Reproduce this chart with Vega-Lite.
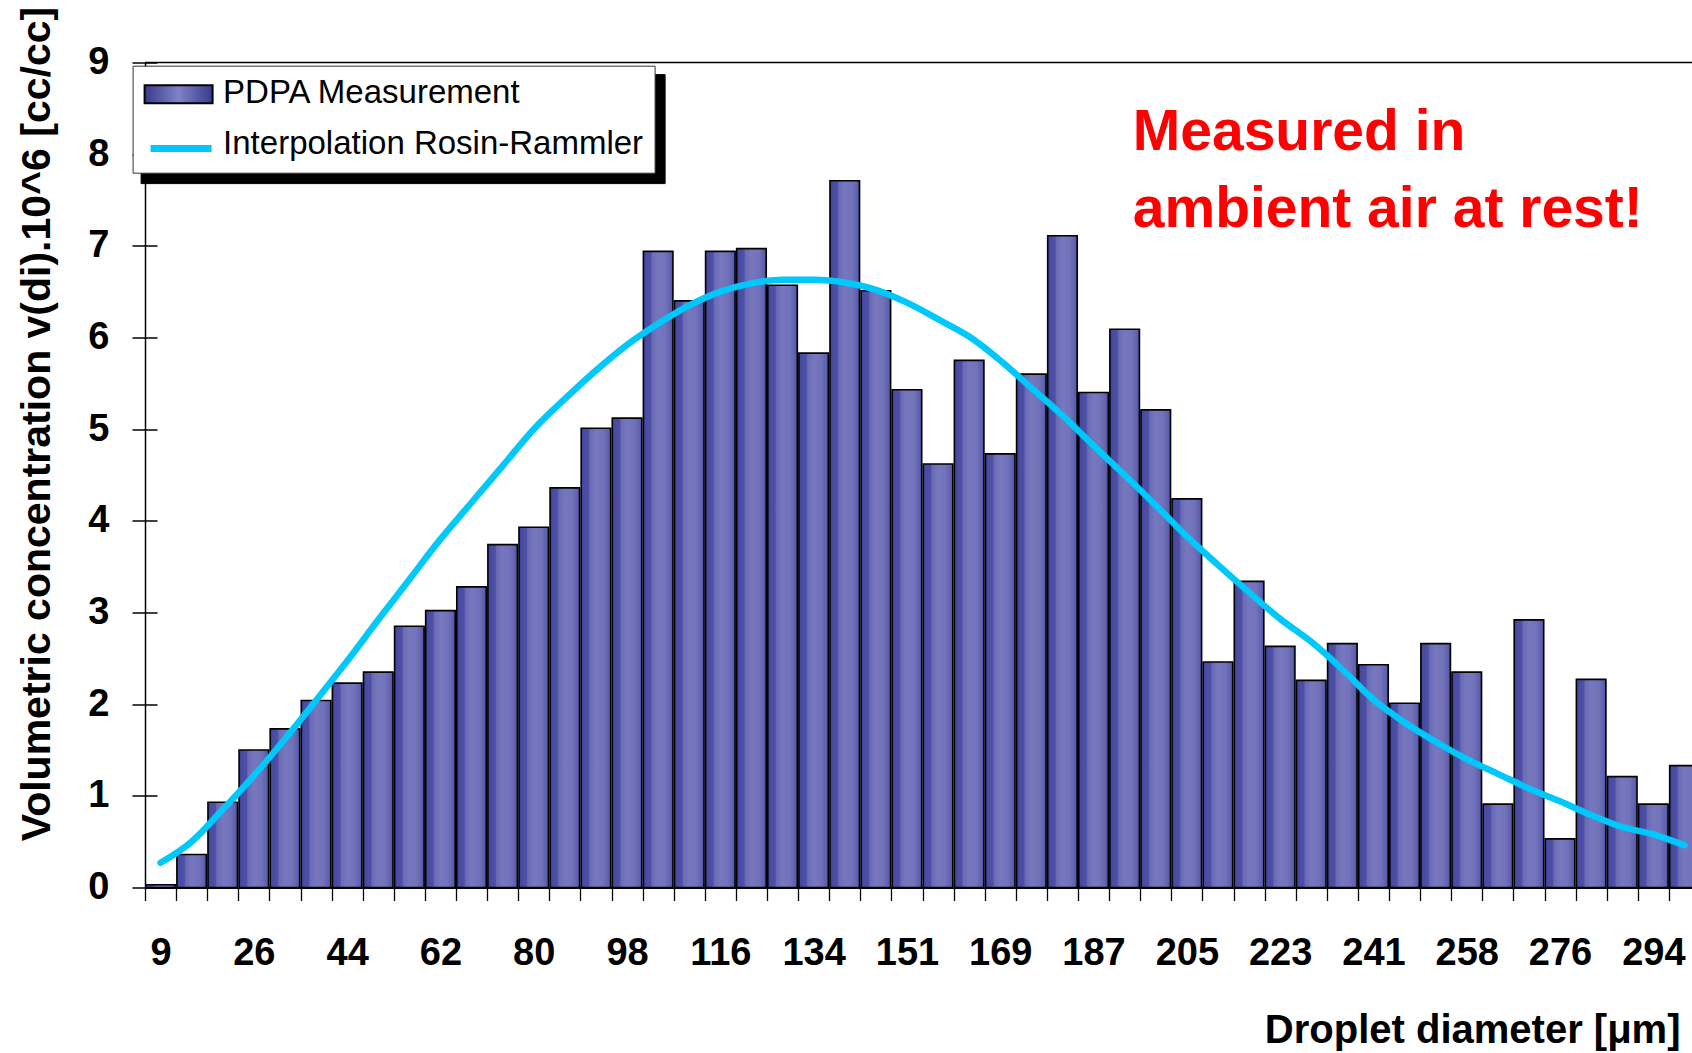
{
  "$schema": "https://vega.github.io/schema/vega-lite/v6.json",
  "width": 1547,
  "height": 825,
  "autosize": {"type": "none"},
  "padding": {"left": 145, "top": 62.5, "right": 0, "bottom": 165.5},
  "background": "#ffffff",
  "config": {"view": {"stroke": null}, "axis": {"grid": false}, "font": "Liberation Sans"},
  "data": {"values": [
    {"d": 9, "v": 0.03, "fit": 0.27},
    {"d": 15, "v": 0.36, "fit": 0.5},
    {"d": 21, "v": 0.93, "fit": 0.85},
    {"d": 26, "v": 1.5, "fit": 1.22},
    {"d": 32, "v": 1.73, "fit": 1.62},
    {"d": 38, "v": 2.04, "fit": 2.04},
    {"d": 44, "v": 2.23, "fit": 2.47},
    {"d": 50, "v": 2.35, "fit": 2.92},
    {"d": 56, "v": 2.85, "fit": 3.36},
    {"d": 62, "v": 3.02, "fit": 3.8},
    {"d": 68, "v": 3.28, "fit": 4.2},
    {"d": 74, "v": 3.74, "fit": 4.6},
    {"d": 80, "v": 3.93, "fit": 5.0},
    {"d": 86, "v": 4.36, "fit": 5.33},
    {"d": 92, "v": 5.01, "fit": 5.64},
    {"d": 98, "v": 5.12, "fit": 5.92},
    {"d": 104, "v": 6.94, "fit": 6.15},
    {"d": 110, "v": 6.4, "fit": 6.35},
    {"d": 116, "v": 6.94, "fit": 6.5},
    {"d": 122, "v": 6.97, "fit": 6.59},
    {"d": 128, "v": 6.57, "fit": 6.63},
    {"d": 134, "v": 5.83, "fit": 6.63},
    {"d": 139, "v": 7.71, "fit": 6.6},
    {"d": 145, "v": 6.51, "fit": 6.52},
    {"d": 151, "v": 5.43, "fit": 6.38},
    {"d": 157, "v": 4.62, "fit": 6.2},
    {"d": 163, "v": 5.75, "fit": 6.01},
    {"d": 169, "v": 4.73, "fit": 5.75},
    {"d": 175, "v": 5.6, "fit": 5.45},
    {"d": 181, "v": 7.11, "fit": 5.15},
    {"d": 187, "v": 5.4, "fit": 4.82},
    {"d": 193, "v": 6.09, "fit": 4.5},
    {"d": 199, "v": 5.21, "fit": 4.17},
    {"d": 205, "v": 4.24, "fit": 3.83},
    {"d": 211, "v": 2.46, "fit": 3.52},
    {"d": 217, "v": 3.34, "fit": 3.22},
    {"d": 223, "v": 2.63, "fit": 2.93},
    {"d": 229, "v": 2.26, "fit": 2.68},
    {"d": 235, "v": 2.66, "fit": 2.38},
    {"d": 241, "v": 2.43, "fit": 2.05},
    {"d": 246, "v": 2.01, "fit": 1.8},
    {"d": 252, "v": 2.66, "fit": 1.59},
    {"d": 258, "v": 2.35, "fit": 1.4},
    {"d": 264, "v": 0.91, "fit": 1.24},
    {"d": 270, "v": 2.92, "fit": 1.08},
    {"d": 276, "v": 0.53, "fit": 0.94},
    {"d": 282, "v": 2.27, "fit": 0.79},
    {"d": 288, "v": 1.21, "fit": 0.66},
    {"d": 294, "v": 0.91, "fit": 0.58},
    {"d": 300, "v": 1.33, "fit": 0.46}
  ]},
  "layer": [
    {
      "data": {"values": [{}]},
      "mark": {"type": "rule", "stroke": "#000000", "strokeWidth": 1.5},
      "encoding": {"y": {"datum": 9, "type": "quantitative", "axis": null}}
    },
    {
      "mark": {
        "type": "bar",
        "width": {"band": 0.95},
        "fill": {"gradient": "linear", "x1": 0, "y1": 0, "x2": 1, "y2": 0, "stops": [
          {"offset": 0, "color": "#3b3e9a"},
          {"offset": 0.08, "color": "#484ba2"},
          {"offset": 0.25, "color": "#4e50a6"},
          {"offset": 0.3, "color": "#6a6bb5"},
          {"offset": 0.5, "color": "#7677bd"},
          {"offset": 0.75, "color": "#7172ba"},
          {"offset": 0.92, "color": "#5f61ae"},
          {"offset": 1, "color": "#4a4ca2"}
        ]},
        "stroke": "#000000",
        "strokeWidth": 1.6
      },
      "encoding": {
        "x": {
          "field": "d",
          "type": "ordinal",
          "sort": "ascending",
          "scale": {
            "domain": [9,15,21,26,32,38,44,50,56,62,68,74,80,86,92,98,104,110,116,122,128,134,139,145,151,157,163,169,175,181,187,193,199,205,211,217,223,229,235,241,246,252,258,264,270,276,282,288,294,300],
            "range": [0, 1555],
            "paddingInner": 0,
            "paddingOuter": 0
          },
          "axis": {
            "title": "Droplet diameter [μm]",
            "tickBand": "extent",
            "tickSize": 13,
            "tickColor": "#000000",
            "tickWidth": 1.3,
            "domainColor": "#000000",
            "domainWidth": 2,
            "labelAngle": 0,
            "labelFont": "Liberation Sans",
            "labelFontSize": 38,
            "labelFontWeight": "bold",
            "labelColor": "#000000",
            "labelPadding": 34,
            "labelOverlap": false,
            "labelBound": false,
            "labelExpr": "indexof([9,26,44,62,80,98,116,134,151,169,187,205,223,241,258,276,294], datum.value) >= 0 ? datum.label : ''",
            "titleFont": "Liberation Sans",
            "titleFontSize": 40,
            "titleFontWeight": "bold",
            "titleColor": "#000000",
            "titleX": 1535,
            "titleY": 155.3,
            "titleAlign": "right",
            "titleBaseline": "alphabetic"
          }
        },
        "y": {
          "field": "v",
          "type": "quantitative",
          "scale": {"domain": [0, 9], "nice": false},
          "axis": {
            "orient": "left",
            "title": "Volumetric concentration v(di).10^6 [cc/cc]",
            "values": [0,1,2,3,4,5,6,7,8,9],
            "tickSize": 13,
            "tickColor": "#000000",
            "tickWidth": 1.5,
            "domainColor": "#000000",
            "domainWidth": 1.5,
            "labelFont": "Liberation Sans",
            "labelFontSize": 38,
            "labelFontWeight": "bold",
            "labelColor": "#000000",
            "labelPadding": 23,
            "labelFlush": false,
            "labelOverlap": false,
            "titleFont": "Liberation Sans",
            "titleFontSize": 41,
            "titleFontWeight": "bold",
            "titleColor": "#000000",
            "titleAngle": -90,
            "titleX": -96,
            "titleY": 361,
            "titleAlign": "center",
            "titleBaseline": "alphabetic"
          }
        }
      }
    },
    {
      "mark": {"type": "line", "strokeWidth": 6.5, "strokeCap": "round", "strokeJoin": "round", "interpolate": "monotone"},
      "encoding": {
        "x": {"field": "d", "type": "ordinal"},
        "y": {
          "field": "fit",
          "type": "quantitative",
          "axis": {
            "orient": "left",
            "values": [0,1,2,3,4,5,6,7,8,9],
            "tickSize": -12,
            "tickColor": "#000000",
            "tickWidth": 1.5,
            "labels": false,
            "domain": false,
            "title": null
          }
        },
        "color": {
          "datum": "Interpolation Rosin-Rammler ",
          "type": "nominal",
          "scale": {"domain": ["PDPA Measurement ", "Interpolation Rosin-Rammler "], "range": ["#000000", "#00c8fa"]},
          "legend": {
            "orient": "none",
            "legendX": -4.4,
            "legendY": 11.6,
            "title": null,
            "fillColor": "#000000",
            "strokeColor": "#000000",
            "padding": 11,
            "rowPadding": 17,
            "labelFont": "Liberation Sans",
            "labelFontSize": 33,
            "labelColor": "#000000",
            "labelOffset": 46.5,
            "labelLimit": 700,
            "labelExpr": "trim(datum.label)",
            "symbolSize": 1089,
            "symbolType": "M-1,-0.545H3.12V0.545H-1Z",
            "symbolFillColor": "#000000",
            "symbolStrokeColor": "#000000"
          }
        },
        "opacity": {
          "datum": "Interpolation Rosin-Rammler",
          "type": "nominal",
          "scale": {"domain": ["PDPA Measurement", "Interpolation Rosin-Rammler"], "range": [1, 1]},
          "legend": {
            "orient": "none",
            "legendX": -12.4,
            "legendY": 3.2,
            "title": null,
            "fillColor": "#ffffff",
            "strokeColor": "#333333",
            "padding": 11,
            "rowPadding": 17,
            "labelFont": "Liberation Sans",
            "labelFontSize": 33,
            "labelColor": "#000000",
            "labelOffset": 46.5,
            "labelLimit": 700,
            "symbolSize": 1089,
            "symbolType": "M0,0",
            "symbolStrokeWidth": 0
          }
        }
      }
    },
    {
      "data": {"values": []},
      "mark": {"type": "line", "stroke": "#00c8fa"},
      "encoding": {
        "strokeWidth": {
          "datum": "Interpolation Rosin-Rammler",
          "type": "nominal",
          "scale": {"domain": ["Interpolation Rosin-Rammler"], "range": [7, 7]},
          "legend": {
            "orient": "none",
            "legendX": -12.4,
            "legendY": 55,
            "title": null,
            "padding": 11,
            "labelFont": "Liberation Sans",
            "labelFontSize": 33,
            "labelOpacity": 0,
            "labelOffset": 46.5,
            "labelLimit": 700,
            "symbolSize": 1089,
            "symbolType": "M-0.79,0H2.91",
            "symbolStrokeColor": "#00c8fa"
          }
        }
      }
    },
    {
      "data": {"values": []},
      "mark": {
        "type": "bar",
        "fill": {"gradient": "linear", "x1": 0, "y1": 0, "x2": 1, "y2": 0, "stops": [
          {"offset": 0, "color": "#383a8e"},
          {"offset": 0.5, "color": "#8082c5"},
          {"offset": 1, "color": "#383a8e"}
        ]},
        "stroke": "#000000",
        "strokeWidth": 2
      },
      "encoding": {
        "strokeDash": {
          "datum": "PDPA Measurement",
          "type": "nominal",
          "scale": {"domain": ["PDPA Measurement"], "range": [[1, 0]]},
          "legend": {
            "orient": "none",
            "legendX": -12.4,
            "legendY": 3.2,
            "title": null,
            "padding": 11,
            "labelFont": "Liberation Sans",
            "labelFontSize": 33,
            "labelOpacity": 0,
            "labelOffset": 46.5,
            "labelLimit": 700,
            "symbolSize": 1089,
            "symbolType": "M-1,-0.545H3.12V0.545H-1Z",
            "symbolStrokeWidth": 2
          }
        }
      }
    },
    {
      "data": {"values": [{}]},
      "mark": {
        "type": "text",
        "text": ["Measured in", "ambient air at rest!"],
        "font": "Liberation Sans",
        "fontSize": 57,
        "fontWeight": "bold",
        "fill": "#ff0000",
        "align": "left",
        "baseline": "alphabetic",
        "lineHeight": 76.7,
        "dx": -23
      },
      "encoding": {
        "x": {"datum": 199, "type": "ordinal"},
        "y": {"datum": 8.045, "type": "quantitative", "axis": null}
      }
    }
  ],
  "resolve": {"axis": {"y": "independent"}}
}
